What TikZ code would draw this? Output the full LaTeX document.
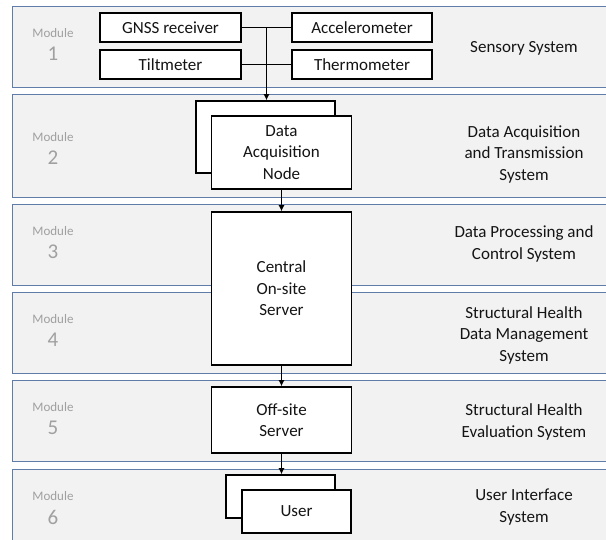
\documentclass[tikz,border=0pt]{standalone}
\usepackage{fontspec}
\setmainfont{Carlito}
\usetikzlibrary{arrows.meta,calc}
\definecolor{bandfill}{RGB}{242,242,242}
\definecolor{bandline}{RGB}{96,125,170}
\definecolor{modgray}{RGB}{160,160,160}
\definecolor{txt}{RGB}{20,20,20}
\tikzset{
  band/.style={fill=bandfill, draw=bandline, line width=0.9pt},
  unitbox/.style={draw=black, fill=white, line width=1.6pt, inner sep=0pt, align=center,
    text=txt, font=\fontsize{17}{21.5}\selectfont},
  modtxt/.style={text=modgray, align=center, inner sep=0pt},
  systxt/.style={text=txt, align=center, inner sep=0pt, font=\fontsize{17}{21.5}\selectfont},
  conn/.style={draw=black, line width=1pt},
  arr/.style={conn, -{Latex[length=6pt,width=6pt]}}
}
\begin{document}
\begin{tikzpicture}[x=1pt,y=-1pt]
\useasboundingbox (0,0) rectangle (606,539);
\clip (0,0) rectangle (606,539);
% bands
\path[band] (12.5,6) rectangle (620,87);
\path[band] (12.5,94) rectangle (620,197);
\path[band] (12.5,204) rectangle (620,285);
\path[band] (12.5,292) rectangle (620,373);
\path[band] (12.5,380) rectangle (620,461);
\path[band] (12.5,469) rectangle (620,552);
% module labels
\foreach \n/\y in {1/6,2/110,3/204,4/292,5/380,6/469}{
  \node[modtxt, font=\fontsize{13}{14}\selectfont] (mod\n) at (53,\y+27) {Module};
  \node[modtxt, font=\fontsize{21}{22}\selectfont] (num\n) at (53,\y+48) {\n};
}
% system labels
\node[systxt] (s1) at (524,48) {Sensory System};
\node[systxt] (s2) at (524,154) {Data Acquisition\\and Transmission\\System};
\node[systxt] (s3) at (524,244) {Data Processing and\\Control System};
\node[systxt] (s4) at (524,335) {Structural Health\\Data Management\\System};
\node[systxt] (s5) at (524,422) {Structural Health\\Evaluation System};
\node[systxt] (s6) at (524,507) {User Interface\\System};
% sensors
\node[unitbox, minimum width=141pt, minimum height=29pt] (gnss) at (170.5,27.5) {GNSS receiver};
\node[unitbox, minimum width=141pt, minimum height=29pt] (tilt) at (170.5,64.5) {Tiltmeter};
\node[unitbox, minimum width=140pt, minimum height=29pt] (accel) at (362,27.5) {Accelerometer};
\node[unitbox, minimum width=140pt, minimum height=29pt] (thermo) at (362,64.5) {Thermometer};
% DAQ
\node[unitbox, minimum width=139pt, minimum height=72pt] (daqb) at (265.5,137) {};
\node[unitbox, minimum width=140pt, minimum height=73pt] (daqf) at (281.5,152.5) {Data\\Acquisition\\Node};
% central
\node[unitbox, minimum width=140pt, minimum height=153pt] (central) at (281.5,288.5) {Central\\On-site\\Server};
% offsite
\node[unitbox, minimum width=140pt, minimum height=66pt] (offsite) at (281.5,420) {Off-site\\Server};
% user
\node[unitbox, minimum width=109pt, minimum height=43pt] (userb) at (280.5,496.5) {};
\node[unitbox, minimum width=109pt, minimum height=43pt] (userf) at (296.5,511.5) {User};
% connectors
\coordinate (j) at ($(gnss.east)!0.5!(accel.west)$);
\draw[conn] (gnss.east) -- (accel.west);
\draw[conn] (tilt.east) -- (thermo.west);
\draw[arr] (j) -- (j |- daqb.north);
\draw[arr] (daqf.south) -- (central.north);
\draw[arr] (central.south) -- (offsite.north);
\draw[arr] (offsite.south) -- (offsite.south |- userb.north);
\end{tikzpicture}
\end{document}
